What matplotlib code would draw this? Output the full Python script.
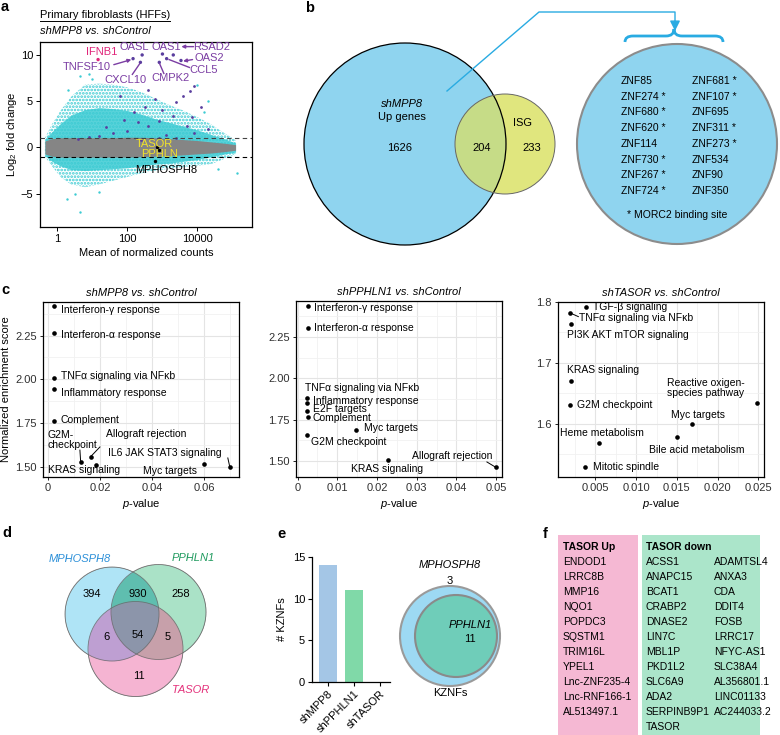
import numpy as np
import matplotlib
matplotlib.use('Agg')
import matplotlib.pyplot as plt
from matplotlib.patches import Circle, Rectangle, PathPatch
from matplotlib.path import Path
from matplotlib.colors import to_rgba
from matplotlib.ticker import MultipleLocator, FixedLocator, NullLocator, FormatStrFormatter

plt.rcParams['font.family'] = ['Liberation Sans', 'DejaVu Sans']
plt.rcParams['mathtext.fontset'] = 'custom'
plt.rcParams['mathtext.rm'] = 'Liberation Sans'
plt.rcParams['mathtext.it'] = 'Liberation Sans:italic'
plt.rcParams['font.size'] = 7.5
plt.rcParams['hatch.linewidth'] = 1.3

# ---------------- data ----------------
# a: MA plot, cloud outlines (log10 mean count -> log2 FC)
ma_logmean = [-0.35, -0.15, 0.1, 0.4, 0.8, 1.2, 1.6, 2.0, 2.4, 2.8, 3.2, 3.6, 4.0, 4.4, 4.8, 5.1]
ma_sparse_hi = [1.0, 2.5, 4.0, 5.5, 6.8, 6.9, 6.8, 6.5, 6.0, 5.3, 4.6, 4.0, 3.3, 2.5, 1.5, 0.8]
ma_sparse_lo = [-1.0, -2.0, -3.2, -4.0, -4.3, -4.0, -3.6, -3.2, -2.8, -2.5, -2.3, -2.1, -2.0, -1.8, -1.2, -0.8]
ma_dense_hi = [0.9, 1.7, 2.6, 3.5, 4.1, 4.3, 4.2, 4.0, 3.6, 3.1, 2.7, 2.3, 1.9, 1.4, 0.9, 0.5]
ma_dense_lo = [-0.9, -1.5, -2.0, -2.4, -2.5, -2.4, -2.3, -2.2, -2.0, -1.8, -1.7, -1.5, -1.3, -1.0, -0.7, -0.5]
ma_grey_hi = [0.7, 0.95, 1.05, 1.05, 1.05, 1.05, 1.05, 1.1, 1.1, 1.05, 0.95, 0.85, 0.75, 0.6, 0.45, 0.3]
ma_grey_lo = [-0.7, -0.95, -1.05, -1.05, -1.05, -1.05, -1.05, -1.05, -1.0, -0.95, -0.9, -0.8, -0.7, -0.6, -0.45, -0.3]

cyan_out_logmean = [0.66, 0.3, 1.0, 0.28, 0.66, 5.14, 4.3, 4.6, 1.2, 0.9, 0.5, 4.0, 4.2]
cyan_out_lfc = [7.7, 6.2, 7.4, -5.6, -7.0, -2.8, 5.0, -2.3, -4.8, 7.9, -5.0, 6.7, 3.8]

isg_logmean = [3.9, 3.8, 2.8, 3.0, 2.2, 3.3, 3.7, 3.9, 2.6, 2.0, 1.6, 1.2, 0.6, 0.9, 3.4,
               2.9, 2.5, 4.1, 3.85, 2.3, 1.9, 1.4, 3.1, 2.9, 3.4, 2.4, 4.3, 1.8, 2.6, 3.6]
isg_lfc = [6.6, 6.1, 5.2, 4.1, 3.8, 3.4, 2.3, 1.6, 2.3, 1.8, 1.6, 1.2, 0.9, 1.1, 4.9,
           2.9, 4.4, 4.4, 3.3, 2.7, 3.0, 2.2, 1.4, 1.0, 1.0, 0.8, 2.0, 5.6, 6.2, 5.6]

hit_genes = ['IFNB1', 'OASL', 'OAS1', 'RSAD2', 'OAS2', 'CCL5', 'CMPK2', 'CXCL10', 'TNFSF10']
hit_logmean = [1.17, 2.43, 3.01, 3.32, 3.54, 3.13, 2.92, 2.38, 2.17]
hit_lfc = [9.5, 10.0, 10.1, 10.0, 9.4, 9.6, 9.2, 9.2, 9.6]

hush_genes = ['TASOR', 'PPHLN', 'MPHOSPH8']
hush_logmean = [2.86, 2.9, 2.8]
hush_lfc = [0.0, -0.3, -1.5]

# b: Venn of shMPP8 up genes and ISGs, plus KZNF list
venn_b_counts = [1626, 204, 233]
znf_left = ['ZNF85', 'ZNF274 *', 'ZNF680 *', 'ZNF620 *', 'ZNF114', 'ZNF730 *', 'ZNF267 *', 'ZNF724 *']
znf_right = ['ZNF681 *', 'ZNF107 *', 'ZNF695', 'ZNF311 *', 'ZNF273 *', 'ZNF534', 'ZNF90', 'ZNF350']

# c: GSEA hallmark terms
c1_terms = ['Interferon-γ response', 'Interferon-α response', 'TNFα signaling via NFκb',
            'Inflammatory response', 'Complement', 'G2M-\ncheckpoint', 'Allograft rejection',
            'KRAS signaling', 'Myc targets', 'IL6 JAK STAT3 signaling']
c1_p = [0.0024, 0.0024, 0.0024, 0.0024, 0.0024, 0.0126, 0.0164, 0.0185, 0.0600, 0.0700]
c1_nes = [2.419, 2.264, 2.007, 1.942, 1.760, 1.524, 1.556, 1.509, 1.512, 1.495]

c2_terms = ['Interferon-γ response', 'Interferon-α response', 'TNFα signaling via NFκb',
            'Inflammatory response', 'E2F targets', 'Complement', 'Myc targets',
            'G2M checkpoint', 'KRAS signaling', 'Allograft rejection']
c2_p = [0.0026, 0.0027, 0.0023, 0.0023, 0.0023, 0.0025, 0.0147, 0.0023, 0.0227, 0.0499]
c2_nes = [2.438, 2.306, 1.881, 1.853, 1.804, 1.768, 1.688, 1.657, 1.506, 1.462]

c3_terms = ['TGF-β signaling', 'TNFα signaling via NFκb', 'PI3K AKT mTOR signaling',
            'KRAS signaling', 'G2M checkpoint', 'Reactive oxigen-\nspecies pathway',
            'Myc targets', 'Bile acid metabolism', 'Heme metabolism', 'Mitotic spindle']
c3_p = [0.0039, 0.0019, 0.0020, 0.0020, 0.0019, 0.0249, 0.0168, 0.0150, 0.0054, 0.0037]
c3_nes = [1.792, 1.782, 1.764, 1.671, 1.631, 1.635, 1.600, 1.578, 1.568, 1.530]

# d: 3-way Venn (A=MPHOSPH8, B=PPHLN1, C=TASOR), region code A+2B+4C
venn_d_codes = [1, 3, 2, 5, 7, 6, 4]
venn_d_counts = [394, 930, 258, 6, 54, 5, 11]

# e: KZNF counts
kznf_groups = ['shMPP8', 'shPPHLN1', 'shTASOR']
kznf_counts = [14, 11, 0]
kznf_venn = [3, 11]

# f: TASOR-dependent genes
tasor_up = ['ENDOD1', 'LRRC8B', 'MMP16', 'NQO1', 'POPDC3', 'SQSTM1', 'TRIM16L', 'YPEL1',
            'Lnc-ZNF235-4', 'Lnc-RNF166-1', 'AL513497.1']
tasor_down_1 = ['ACSS1', 'ANAPC15', 'BCAT1', 'CRABP2', 'DNASE2', 'LIN7C', 'MBL1P', 'PKD1L2',
                'SLC6A9', 'ADA2', 'SERPINB9P1', 'TASOR']
tasor_down_2 = ['ADAMTSL4', 'ANXA3', 'CDA', 'DDIT4', 'FOSB', 'LRRC17', 'NFYC-AS1', 'SLC38A4',
                'AL356801.1', 'LINC01133', 'AC244033.2']

# ---------------- figure ----------------
W, H = 780, 735
fig = plt.figure(figsize=(W / 100, H / 100), dpi=100)
FS = 8      # most labels
FS_S = 7.5  # dense lists


def px_axes(l, t, r, b):
    return fig.add_axes([l / W, 1 - b / H, (r - l) / W, (b - t) / H])


CYAN = '#3ccbd3'
PURPLE = '#5a3e9e'
LABPURPLE = '#7b3da3'

# ---- a ----
ax = px_axes(40, 42, 252, 227)
ax.set_xscale('log')
mx = 10 ** np.array(ma_logmean)
ax.fill_between(mx, ma_sparse_lo, ma_sparse_hi, facecolor='none', edgecolor=CYAN,
                hatch='.....', linewidth=0, zorder=1)
ax.fill_between(mx, ma_dense_lo, ma_dense_hi, color=CYAN, alpha=0.85, linewidth=0, zorder=2)
ax.fill_between(mx, ma_grey_lo, ma_grey_hi, color='#858585', linewidth=0, zorder=3)
ax.scatter(10 ** np.array(cyan_out_logmean), cyan_out_lfc, s=3, color=CYAN, lw=0, zorder=3)
ax.scatter(10 ** np.array(isg_logmean), isg_lfc, s=4, color=PURPLE, lw=0, zorder=4)
ax.scatter(10 ** np.array(hit_logmean), hit_lfc, s=6,
           color=['#e0267a'] + [PURPLE] * 8, lw=0, zorder=5)
ax.scatter(10 ** np.array(hush_logmean), hush_lfc, s=6, color='black', lw=0, zorder=5)
ax.axhline(1, color='#444444', lw=0.8, ls=(0, (4, 3)), zorder=4)
ax.axhline(-1, color='black', lw=0.8, ls=(0, (4, 3)), zorder=4)

hit_text = [(1.27, 10.35), (2.2, 10.9), (3.11, 10.9), (4.43, 10.9), (4.34, 9.65),
            (4.2, 8.37), (3.23, 7.5), (1.94, 7.28), (0.86, 8.7)]
for g, (tx, ty) in zip(hit_genes, hit_text):
    ax.text(10 ** tx, ty, g, ha='center', va='center', fontsize=FS,
            color='#e0267a' if g == 'IFNB1' else LABPURPLE, zorder=6)
a_arrows = [((1.62, 8.95), (2.12, 9.5)), ((3.87, 9.5), (3.6, 9.33)), ((3.9, 10.9), (3.55, 10.9))]
for (x0, y0), (x1, y1) in a_arrows:
    ax.annotate('', xy=(10 ** x1, y1), xytext=(10 ** x0, y0),
                arrowprops=dict(arrowstyle='-|>', color=LABPURPLE, lw=1.0,
                                mutation_scale=5, shrinkA=0, shrinkB=0), zorder=6)
a_lines = [((2.15, 7.9), (2.36, 9.05)), ((3.05, 8.0), (2.93, 9.05)), ((3.78, 8.65), (3.2, 9.5))]
for (x0, y0), (x1, y1) in a_lines:
    ax.plot([10 ** x0, 10 ** x1], [y0, y1], color=LABPURPLE, lw=1.0, zorder=6)
hush_text = [(2.77, 0.35), (2.94, -0.76), (3.12, -2.39)]
for g, (tx, ty) in zip(hush_genes, hush_text):
    ax.text(10 ** tx, ty, g, ha='center', va='center', fontsize=FS,
            color='black' if g == 'MPHOSPH8' else '#f2e22a', zorder=6)

ax.set_xlim(10 ** -0.49, 10 ** 5.57)
ax.set_ylim(-8.6, 11.4)
ax.xaxis.set_major_locator(FixedLocator([1, 100, 10000]))
ax.set_xticklabels(['1', '100', '10000'])
ax.xaxis.set_minor_locator(NullLocator())
ax.set_yticks([-5, 0, 5, 10])
ax.tick_params(labelsize=FS, length=3, width=0.7, pad=2)
for s in ax.spines.values():
    s.set_linewidth(0.9)
ax.set_xlabel('Mean of normalized counts', fontsize=FS, labelpad=3)
ax.set_ylabel('Log$_2$ fold change', fontsize=FS, labelpad=1)


# ---- c ----
def gsea_axes(rect, xmaj, xmin, ymaj, ymin, xlim, ylim, xfmt, yfmt, title):
    a = px_axes(*rect)
    a.set_xlim(*xlim)
    a.set_ylim(*ylim)
    a.xaxis.set_major_locator(MultipleLocator(xmaj))
    a.xaxis.set_minor_locator(MultipleLocator(xmin))
    a.yaxis.set_major_locator(MultipleLocator(ymaj))
    a.yaxis.set_minor_locator(MultipleLocator(ymin))
    a.xaxis.set_major_formatter(xfmt)
    a.yaxis.set_major_formatter(FormatStrFormatter(yfmt))
    a.grid(which='major', color='#e4e4e4', lw=0.8)
    a.grid(which='minor', color='#f1f1f1', lw=0.6)
    a.set_axisbelow(True)
    a.tick_params(which='minor', length=0)
    a.tick_params(which='major', length=2.5, width=0.6, labelsize=FS, pad=2,
                  labelcolor='#303030')
    for s in a.spines.values():
        s.set_linewidth(0.9)
    a.set_title(title, fontsize=FS, style='italic', pad=4)
    a.set_xlabel('$p$-value', fontsize=FS, labelpad=3)
    return a


def gfmt(v, pos):
    return '0' if abs(v) < 1e-12 else ('%g' % round(v, 4))


def draw_terms(a, terms, p, nes, text_pos, lines):
    a.scatter(p, nes, s=11, color='black', lw=0, zorder=3, clip_on=False)
    for t, (tx, ty) in zip(terms, text_pos):
        a.text(tx, ty, t, ha='left', va='center', fontsize=FS_S, linespacing=0.95, zorder=4)
    for i, (ex, ey) in lines:
        a.plot([p[i], ex], [nes[i], ey], color='black', lw=0.7, zorder=3)


c1 = gsea_axes((43, 302, 239, 477), 0.02, 0.01, 0.25, 0.125, (-0.0019, 0.0735),
               (1.44, 2.442), plt.FuncFormatter(gfmt), '%.2f', 'shMPP8 vs. shControl')
c1_text = [(0.005, 2.396), (0.005, 2.253), (0.005, 2.02), (0.005, 1.919), (0.005, 1.766),
           (0.0, 1.652), (0.0223, 1.686), (0.0, 1.48), (0.0365, 1.476), (0.0231, 1.576)]
draw_terms(c1, c1_terms, c1_p, c1_nes, c1_text,
           [(5, (0.0123, 1.594)), (6, (0.020, 1.612)), (9, (0.0692, 1.549))])
c1.set_ylabel('Normalized enrichment score', fontsize=FS, labelpad=3)

c2 = gsea_axes((296, 301, 502, 477), 0.01, 0.005, 0.25, 0.125, (-0.0004, 0.0515),
               (1.403, 2.468), plt.FuncFormatter(gfmt), '%.2f', 'shPPHLN1 vs. shControl')
c2_text = [(0.0042, 2.426), (0.0042, 2.305), (0.0019, 1.94), (0.0039, 1.865), (0.0039, 1.813),
           (0.0037, 1.758), (0.0168, 1.698), (0.0034, 1.617), (0.0135, 1.452), (0.0287, 1.53)]
draw_terms(c2, c2_terms, c2_p, c2_nes, c2_text, [(9, (0.0477, 1.494))])

c3 = gsea_axes((558, 302, 764, 477), 0.005, 0.0025, 0.1, 0.05, (0.0004, 0.0257),
               (1.513, 1.80), FormatStrFormatter('%.3f'), '%.1f', 'shTASOR vs. shControl')
c3_text = [(0.0047, 1.791), (0.0030, 1.773), (0.0015, 1.746), (0.0015, 1.689), (0.0027, 1.631),
           (0.0138, 1.659), (0.0143, 1.615), (0.0116, 1.558), (0.0007, 1.585), (0.0047, 1.530)]
draw_terms(c3, c3_terms, c3_p, c3_nes, c3_text, [(1, (0.0029, 1.776))])

# ---- e bars ----
ae = px_axes(312, 557, 392, 682)
ae.bar(range(len(kznf_groups)), kznf_counts, width=0.69, color=['#a4c6e6', '#80d9a8', '#c9c9c9'])
ae.set_xlim(-0.615, 2.46)
ae.set_ylim(0, 15)
ae.set_yticks([0, 5, 10, 15])
ae.set_xticks(range(len(kznf_groups)))
ae.set_xticklabels(kznf_groups, rotation=45, ha='right', rotation_mode='anchor')
ae.spines['top'].set_visible(False)
ae.spines['right'].set_visible(False)
ae.spines['bottom'].set_bounds(-0.615, 2.38)
for s in ('left', 'bottom'):
    ae.spines[s].set_linewidth(0.9)
ae.tick_params(labelsize=FS, length=3, width=0.8, pad=2)
ae.set_ylabel('# KZNFs', fontsize=FS, labelpad=4)

# ---- overlay (venns, table, letters) ----
ov = fig.add_axes([0, 0, 1, 1], zorder=10)
ov.patch.set_visible(False)

# b
BLUE = '#8fd4ef'
big = Circle((405, 144), 101, fc=BLUE, ec='none', zorder=1)
ov.add_patch(big)
ov.add_patch(Circle((505, 144), 50, fc='#e0e67e', ec='none', zorder=2))
lens = Circle((505, 144), 50, fc='#c6dc87', ec='none', zorder=3)
ov.add_patch(lens)
lens.set_clip_path(big)
ov.add_patch(Circle((405, 144), 101, fill=False, ec='black', lw=0.9, zorder=4))
ov.add_patch(Circle((505, 144), 50, fill=False, ec='#666666', lw=0.7, zorder=4))
ov.text(402, 104, 'shMPP8', style='italic', ha='center', va='center', fontsize=FS)
ov.text(402, 117, 'Up genes', ha='center', va='center', fontsize=FS)
ov.text(522, 123, 'ISG', ha='center', va='center', fontsize=FS)
for (x, y), n in zip([(400, 148), (482, 148), (532, 148)], venn_b_counts):
    ov.text(x, y, str(n), ha='center', va='center', fontsize=FS)

ov.add_patch(Circle((677, 144), 100, fc=BLUE, ec='#8c8c8c', lw=1.5, zorder=1))
for i, (zl, zr) in enumerate(zip(znf_left, znf_right)):
    ov.text(621, 81 + 15.7 * i, zl, ha='left', va='center', fontsize=FS_S)
    ov.text(692, 81 + 15.7 * i, zr, ha='left', va='center', fontsize=FS_S)
ov.text(677, 215, '* MORC2 binding site', ha='center', va='center', fontsize=FS_S)

LINEBLUE = '#29abe2'
ov.plot([447, 539, 675, 675], [91, 12, 12, 24], color=LINEBLUE, lw=1.0, zorder=5)
ov.annotate('', xy=(675, 31), xytext=(675, 21),
            arrowprops=dict(arrowstyle='-|>,head_length=0.8,head_width=0.4', color=LINEBLUE,
                            lw=1.0, shrinkA=0, shrinkB=0), zorder=5)
brace = Path([(625, 42), (625, 36), (633, 36), (666, 36), (674, 36), (674, 29),
              (674, 36), (682, 36), (715, 36), (723, 36), (723, 42)],
             [Path.MOVETO, Path.CURVE3, Path.CURVE3, Path.LINETO, Path.CURVE3, Path.CURVE3,
              Path.CURVE3, Path.CURVE3, Path.LINETO, Path.CURVE3, Path.CURVE3])
ov.add_patch(PathPatch(brace, fill=False, ec=LINEBLUE, lw=2.0, zorder=5))

# d
d_centres = [(112, 614, 47), (158.5, 612, 47.5), (135.5, 649, 47.5)]
d_colors = {1: '#afe4f6', 2: '#aae2c8', 4: '#f5b4d2', 3: '#5fbeaf', 5: '#be9fd2',
            6: '#c8a0aa', 7: '#8c96aa'}
gx, gy = np.meshgrid(np.arange(55, 215, 0.25), np.arange(555, 705, 0.25))
code = np.zeros(gx.shape, dtype=int)
for k, (cx, cy, r) in enumerate(d_centres):
    code += ((gx - cx) ** 2 + (gy - cy) ** 2 <= r ** 2).astype(int) << k
img = np.zeros(code.shape + (4,))
for k, col in d_colors.items():
    img[code == k] = to_rgba(col)
ov.imshow(img, extent=(55, 215, 705, 555), interpolation='antialiased', zorder=1)
for cx, cy, r in d_centres:
    ov.add_patch(Circle((cx, cy), r, fill=False, ec='#666666', lw=0.6, alpha=0.8, zorder=2))
d_pos = {1: (92, 594), 3: (138, 594), 2: (181, 594), 5: (106, 637), 7: (138, 635),
         6: (168, 637), 4: (139, 676)}
for k, n in zip(venn_d_codes, venn_d_counts):
    ov.text(*d_pos[k], str(n), ha='center', va='center', fontsize=FS)
ov.text(80, 559, 'MPHOSPH8', style='italic', color='#2b8fd8', ha='center', va='center', fontsize=FS)
ov.text(193, 558, 'PPHLN1', style='italic', color='#1f9a5e', ha='center', va='center', fontsize=FS)
ov.text(191, 690, 'TASOR', style='italic', color='#e4307a', ha='center', va='center', fontsize=FS)

# e venn
ov.add_patch(Circle((450, 636), 50, fc='#9dd9f3', ec='#9a9a9a', lw=1.5, zorder=1))
ov.add_patch(Circle((456, 636), 41, fc='#6fcdb9', ec='#8a8a8a', lw=1.5, zorder=2))
ov.text(450, 565, 'MPHOSPH8', style='italic', ha='center', va='center', fontsize=FS)
ov.text(450, 581, str(kznf_venn[0]), ha='center', va='center', fontsize=FS)
ov.text(470, 625, 'PPHLN1', style='italic', ha='center', va='center', fontsize=FS)
ov.text(470, 639, str(kznf_venn[1]), ha='center', va='center', fontsize=FS)
ov.text(450, 693, 'KZNFs', ha='center', va='center', fontsize=FS)

# f
ov.add_patch(Rectangle((558, 535), 80, 200, fc='#f5b8d3', ec='none'))
ov.add_patch(Rectangle((642, 535), 118, 200, fc='#abe5ca', ec='none'))
ov.text(563, 547, 'TASOR Up', fontweight='bold', ha='left', va='center', fontsize=FS_S)
ov.text(646, 547, 'TASOR down', fontweight='bold', ha='left', va='center', fontsize=FS_S)
for i, g in enumerate(tasor_up):
    ov.text(563, 562 + 15 * i, g, ha='left', va='center', fontsize=FS_S)
for i, g in enumerate(tasor_down_1):
    ov.text(646, 562 + 15 * i, g, ha='left', va='center', fontsize=FS_S)
for i, g in enumerate(tasor_down_2):
    ov.text(714, 562 + 15 * i, g, ha='left', va='center', fontsize=FS_S)

# titles and panel letters
t_title = ov.text(40, 15, 'Primary fibroblasts (HFFs)', ha='left', va='center', fontsize=FS)
ov.text(40, 31, 'shMPP8 vs. shControl', style='italic', ha='left', va='center', fontsize=FS)
for (x, y), lab in zip([(1, 7), (305, 8), (1, 290), (2, 533), (277, 534), (543, 534)],
                       ['a', 'b', 'c', 'd', 'e', 'f']):
    ov.text(x, y, lab, fontweight='bold', fontsize=10.5, ha='left', va='center')

ov.set_xlim(0, W)
ov.set_ylim(H, 0)
ov.set_aspect('auto')
ov.axis('off')

fig.canvas.draw()
bb = t_title.get_window_extent()
ov.plot([bb.x0, bb.x1], [H - bb.y0 + 1, H - bb.y0 + 1], color='black', lw=0.7)

fig.savefig('out.png', dpi=100)
